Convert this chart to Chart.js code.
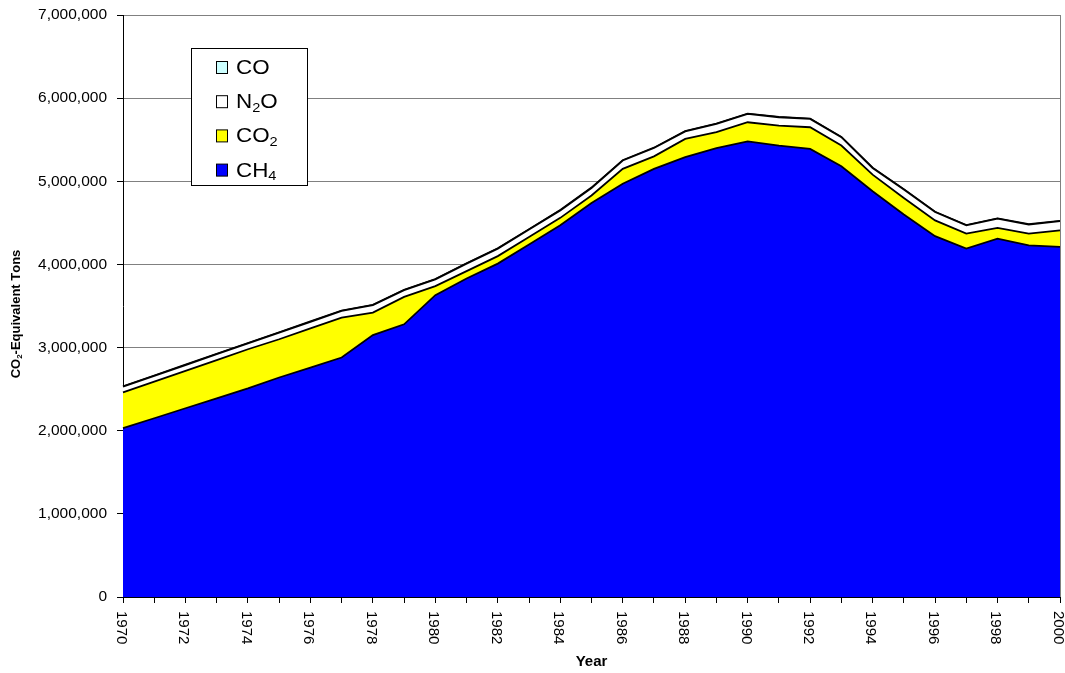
<!DOCTYPE html>
<html>
<head>
<meta charset="utf-8">
<script src="https://cdn.jsdelivr.net/npm/chart.js@4.4.1/dist/chart.umd.min.js"></script>
<style>
  html, body { margin: 0; padding: 0; background: #fff; }
  #c { display: block; }
</style>
</head>
<body>
<canvas id="c" width="1065" height="673"></canvas>
<script>
// Emissions by gas, CO2-equivalent tons, 1970-2000
const years = ['1970','1971','1972','1973','1974','1975','1976','1977','1978','1979',
               '1980','1981','1982','1983','1984','1985','1986','1987','1988','1989',
               '1990','1991','1992','1993','1994','1995','1996','1997','1998','1999','2000'];

const ch4 = [2030000, 2150000, 2270000, 2390000, 2510000, 2640000, 2760000, 2880000, 3150000, 3280000,
             3630000, 3830000, 4010000, 4240000, 4470000, 4740000, 4970000, 5150000, 5290000, 5400000,
             5480000, 5430000, 5390000, 5180000, 4880000, 4600000, 4340000, 4190000, 4310000, 4230000, 4210000];

const co2 = [430000, 440000, 450000, 460000, 470000, 460000, 470000, 480000, 270000, 330000,
             110000, 90000, 90000, 90000, 90000, 90000, 180000, 150000, 220000, 190000,
             230000, 240000, 260000, 250000, 200000, 200000, 190000, 180000, 130000, 140000, 200000];

const n2o = [70000, 70000, 70000, 70000, 70000, 80000, 80000, 80000, 90000, 80000,
             80000, 90000, 90000, 90000, 90000, 90000, 100000, 100000, 90000, 100000,
             100000, 100000, 100000, 100000, 80000, 100000, 100000, 100000, 110000, 110000, 110000];

const co  = [4000, 4000, 4000, 4000, 4000, 4000, 4000, 4000, 4000, 4000,
             4000, 4000, 4000, 4000, 4000, 4000, 4000, 4000, 4000, 4000,
             4000, 4000, 4000, 4000, 4000, 4000, 4000, 4000, 4000, 4000, 4000];

const yTicks = [0, 1000000, 2000000, 3000000, 4000000, 5000000, 6000000, 7000000];

const FONT = 'Arial, "Liberation Sans", sans-serif';
const SUBS = { '₀':'0','₁':'1','₂':'2','₃':'3','₄':'4','₅':'5','₆':'6','₇':'7','₈':'8','₉':'9' };

// Draws text where unicode subscript digits are rendered as small lowered digits
function drawRich(ctx, text, x, y, size, weight) {
  const subSize = Math.round(size * 0.64);
  let cx = x;
  for (const ch of text) {
    if (SUBS[ch]) {
      ctx.font = `${weight} ${subSize}px ${FONT}`;
      ctx.fillText(SUBS[ch], cx, y + size * 0.27);
      cx += ctx.measureText(SUBS[ch]).width;
    } else {
      ctx.font = `${weight} ${size}px ${FONT}`;
      ctx.fillText(ch, cx, y);
      cx += ctx.measureText(ch).width;
    }
  }
  return cx - x;
}
function richWidth(ctx, text, size, weight) {
  const subSize = Math.round(size * 0.64);
  let w = 0;
  for (const ch of text) {
    if (SUBS[ch]) { ctx.font = `${weight} ${subSize}px ${FONT}`; w += ctx.measureText(SUBS[ch]).width; }
    else { ctx.font = `${weight} ${size}px ${FONT}`; w += ctx.measureText(ch).width; }
  }
  return w;
}

const decorations = {
  id: 'decorations',
  afterDraw(chart) {
    const ctx = chart.ctx;
    const area = chart.chartArea;
    const xs = chart.scales.x;
    ctx.save();

    // right frame line
    ctx.strokeStyle = '#808080';
    ctx.lineWidth = 1;
    ctx.beginPath();
    ctx.moveTo(Math.round(area.right) + 0.5, area.top);
    ctx.lineTo(Math.round(area.right) + 0.5, area.bottom);
    ctx.stroke();

    // year labels, rotated clockwise, every second year
    ctx.fillStyle = '#000';
    ctx.font = `15px ${FONT}`;
    ctx.textAlign = 'left';
    ctx.textBaseline = 'middle';
    years.forEach((yr, i) => {
      if (i % 2 !== 0) return;
      const px = xs.getPixelForValue(i);
      ctx.save();
      ctx.translate(px - 2, area.bottom + 14);
      ctx.rotate(Math.PI / 2);
      ctx.fillText(yr, 0, 0);
      ctx.restore();
    });

    // x axis title
    ctx.font = `bold 15px ${FONT}`;
    ctx.textAlign = 'center';
    ctx.textBaseline = 'middle';
    ctx.fillText('Year', (area.left + area.right) / 2, 662);

    // y axis title
    const yTitle = 'CO₂-Equivalent Tons';
    ctx.save();
    ctx.translate(16.5, (area.top + area.bottom) / 2 + 8);
    ctx.rotate(-Math.PI / 2);
    ctx.textAlign = 'left';
    ctx.textBaseline = 'middle';
    const tw = richWidth(ctx, yTitle, 13, 'bold');
    drawRich(ctx, yTitle, -tw / 2, 0, 13, 'bold');
    ctx.restore();

    // legend box
    const bx = 191.5, by = 48.5, bw = 116, bh = 137;
    ctx.fillStyle = '#fff';
    ctx.fillRect(bx, by, bw, bh);
    ctx.strokeStyle = '#000';
    ctx.lineWidth = 1;
    ctx.strokeRect(bx, by, bw, bh);
    const entries = chart.data.datasets.slice().reverse();
    entries.forEach((ds, i) => {
      const cy = 67.5 + i * 34.2;
      ctx.fillStyle = ds.backgroundColor;
      ctx.fillRect(216.5, cy - 6, 11, 12);
      ctx.strokeStyle = '#000';
      ctx.strokeRect(216.5, cy - 6, 11, 12);
      ctx.fillStyle = '#000';
      ctx.textAlign = 'left';
      ctx.textBaseline = 'middle';
      ctx.save();
      ctx.translate(236, cy + 1);
      ctx.scale(1.12, 1);
      drawRich(ctx, ds.label, 0, 0, 20, 'normal');
      ctx.restore();
    });

    ctx.restore();
  }
};

const common = { borderColor: '#000', borderWidth: 1.8, pointRadius: 0, tension: 0 };

new Chart(document.getElementById('c'), {
  type: 'line',
  data: {
    labels: years,
    datasets: [
      { label: 'CH₄', data: ch4, backgroundColor: '#0000FF', fill: 'origin', ...common },
      { label: 'CO₂', data: co2, backgroundColor: '#FFFF00', fill: '-1', ...common },
      { label: 'N₂O', data: n2o, backgroundColor: '#FFFFFF', fill: '-1', ...common },
      { label: 'CO',  data: co,  backgroundColor: '#CCFFFF', fill: '-1', ...common }
    ]
  },
  options: {
    responsive: false,
    animation: false,
    layout: { padding: { top: 15, right: 5, left: 0, bottom: 0 } },
    plugins: { legend: { display: false }, tooltip: { enabled: false }, title: { display: false } },
    scales: {
      x: {
        type: 'category',
        offset: false,
        grid: { display: true, drawOnChartArea: false, drawTicks: true, tickLength: 6, color: '#000' },
        border: { display: true, color: '#000', width: 1 },
        ticks: { display: false },
        afterFit(s) { s.height = 76; }
      },
      y: {
        stacked: true,
        min: 0,
        max: 7000000,
        afterBuildTicks(s) { s.ticks = yTicks.map(v => ({ value: v })); },
        ticks: {
          color: '#000',
          font: { family: FONT, size: 15.5 },
          padding: 10,
          callback: v => v.toLocaleString('en-US')
        },
        grid: { color: '#808080', tickColor: '#000', tickLength: 6, lineWidth: 1 },
        border: { display: true, color: '#000', width: 1 },
        afterFit(s) { s.width = 123; s.paddingTop = 0; s.paddingBottom = 0; }
      }
    }
  },
  plugins: [decorations]
});
</script>
</body>
</html>
